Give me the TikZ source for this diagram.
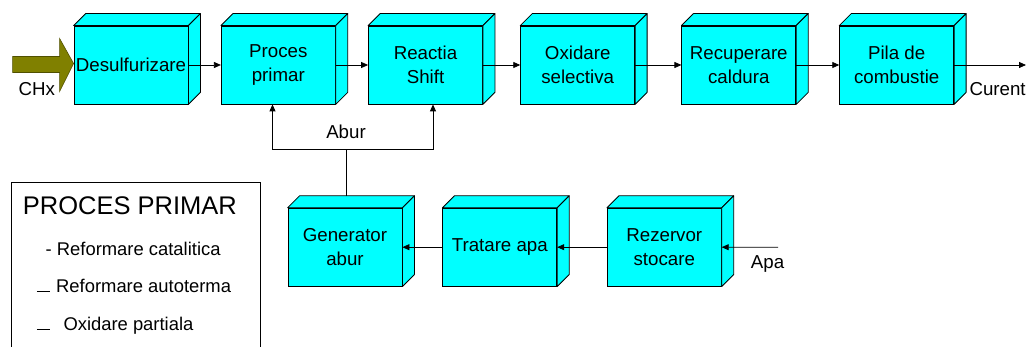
\documentclass[tikz,border=0pt]{standalone}
\usepackage{fontspec}
\setmainfont{Liberation Sans}
\usetikzlibrary{arrows.meta,calc}
\definecolor{boxcyan}{RGB}{0,255,255}
\definecolor{arrowolive}{RGB}{128,128,0}
\definecolor{arrowedge}{RGB}{80,80,0}
\tikzset{
  box/.style={draw, fill=boxcyan, line width=0.8pt, minimum width=114pt, minimum height=78pt,
    inner sep=0pt, align=center, font=\fontsize{18.7}{23.4}\selectfont},
  face/.style={draw, fill=boxcyan, line width=0.8pt, line join=round},
  arr/.style={-{Triangle[length=7pt,width=6pt]}, line width=0.8pt},
  conn/.style={line width=0.8pt},
  lbl/.style={inner sep=0pt, anchor=base west, font=\fontsize{18.7}{23.4}\selectfont},
  leg/.style={inner sep=0pt, anchor=base west, font=\fontsize{18.4}{22}\selectfont},
  bigarrow/.style={fill=arrowolive, draw=arrowedge, line width=0.6pt}
}
\begin{document}
\begin{tikzpicture}[x=1pt,y=-1pt]
\useasboundingbox (0,0) rectangle (1029,347);
% main chain boxes
\node[box] (des) at (131,65) {Desulfurizare};
\node[box] (pp)  at (278.3,65) {Proces\\primar};
\node[box] (ra)  at (425.5,65) {Reactia\\Shift};
\node[box] (ox)  at (577.7,65) {Oxidare\\selectiva};
\node[box] (rc)  at (738.8,65) {Recuperare\\caldura};
\node[box] (pila) at (896.7,65) {Pila de\\combustie};
% bottom boxes
\node[box] (gen) at (345,247.2) {Generator\\abur};
\node[box] (tr)  at (499.8,247.2) {Tratare apa};
\node[box] (rez) at (664.3,247.2) {Rezervor\\stocare};
% 3D faces
\foreach \n in {des,pp,ra,ox,rc,pila,gen,tr,rez}{
  \draw[face] (\n.north west) -- ++(12,-12) -- ($(\n.north east)+(12,-12)$) -- (\n.north east) -- cycle;
  \draw[face] (\n.north east) -- ($(\n.north east)+(12,-12)$) -- ($(\n.south east)+(12,-12)$) -- (\n.south east) -- cycle;
}
% CHx input arrow
\draw[bigarrow] ($(des.west)+(0,-1.5)$) -- ++(-14,28) -- ++(0,-19) -- ++(-47,0) -- ++(0,-16) -- ++(47,0) -- ++(0,-18) -- cycle;
\node[lbl] (chx) at (18.3,95.5) {CHx};
% main connectors
\draw[arr] (des.east) -- (pp.west);
\draw[arr] (pp.east) -- (ra.west);
\draw[arr] (ra.east) -- (ox.west);
\draw[arr] (ox.east) -- (rc.west);
\draw[arr] (rc.east) -- (pila.west);
\coordinate (curend) at (1026,65);
\draw[arr] (pila.east) -- (curend);
\node[lbl] (curent) at (969.3,96) {Curent};
% steam
\coordinate (split) at (346.5,149.3);
\draw[conn] ($(gen.north)+(1.5,-12)$) -- (split);
\draw[arr] (split) -| ($(pp.south)+(-5.8,0)$);
\draw[arr] (split) -| ($(ra.south)+(7.5,0)$);
\node[inner sep=0pt, anchor=base, font=\fontsize{18.7}{23.4}\selectfont] (abur) at (346,138.3) {Abur};
% water chain
\draw[arr] (tr.west) -- (gen.east);
\draw[arr] (rez.west) -- (tr.east);
\coordinate (apain) at (778,247.3);
\draw[arr] (apain) -- (rez.east);
\node[lbl] (apa) at (750.7,268.3) {Apa};
% legend
\draw[line width=0.8pt] (11.7,350) -- (11.7,182.5) -- (260,182.5) -- (260,350);
\node[inner sep=0pt, anchor=base west, font=\fontsize{25.5}{30}\selectfont] (lt) at (22.7,215) {PROCES PRIMAR};
\node[leg] (l1) at (45.5,256) {- Reformare catalitica};
\node[leg] (l2) at (36.7,293) {\rule[1pt]{13.3pt}{0.8pt}\hspace{6pt}Reformare autoterma};
\node[leg] (l3) at (36.7,331) {\rule[1pt]{13.3pt}{0.8pt}\hspace{13.3pt}Oxidare partiala};
\end{tikzpicture}
\end{document}
